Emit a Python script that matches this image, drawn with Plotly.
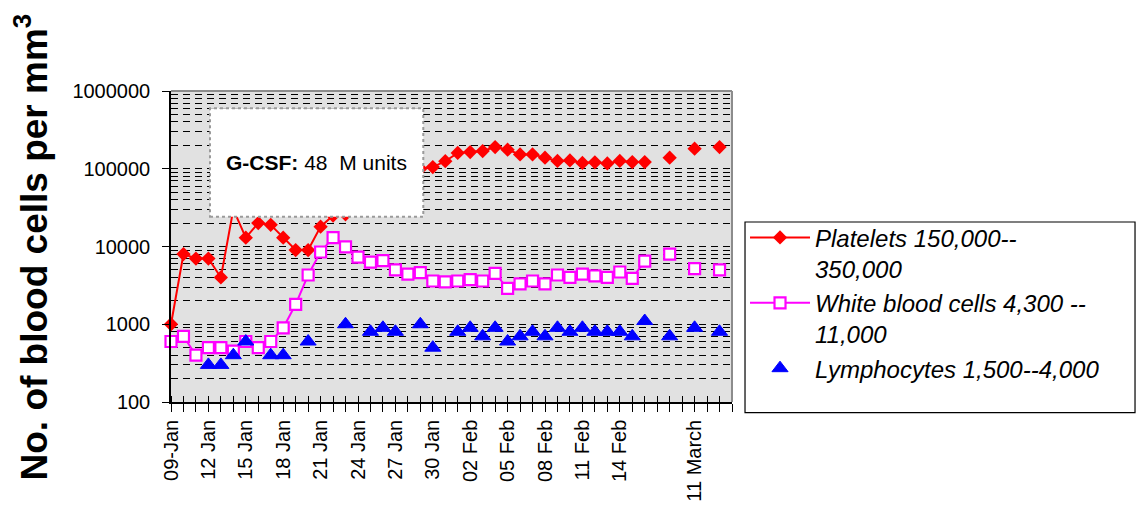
import plotly.graph_objects as go

# ---------------- data ----------------
# category index 0..44 (one category per sampling day); None = no measurement
platelets = [1000, 8000, 7000, 7000, 4000, 30000, 13000, 20000, 19000, 13000,
             9000, 9000, 18000, 25000, 26000, 35000, 45000, 55000, 70000, 85000,
             100000, 105000, 125000, 160000, 164000, 169000, 190000, 176000, 153000, 153000,
             139000, 126000, 128000, 119000, 121000, 117000, 126000, 122000, 122000, None,
             139000, None, 181000, None, 190000]
wbc = [600, 700, 400, 500, 500, 450, 600, 500, 600, 900,
       1800, 4300, 8500, 13000, 9900, 7300, 6300, 6600, 5000, 4400,
       4600, 3600, 3500, 3600, 3750, 3600, 4500, 2900, 3300, 3600,
       3300, 4300, 4000, 4400, 4200, 4000, 4700, 3900, 6500, None,
       8000, None, 5200, None, 5000]
lymphocytes = [None, None, None, 300, 300, 400, 600, None, 400, 400,
               None, 600, None, None, 1000, None, 800, 900, 800, None,
               1000, 500, None, 800, 900, 700, 900, 600, 700, 800,
               700, 900, 800, 900, 800, 800, 800, 700, 1100, None,
               700, None, 900, None, 800]

n_cat = 46  # number of category slots on the axis (last one is the right edge)
tick_labels = {0: "09-Jan", 3: "12 Jan", 6: "15 Jan", 9: "18 Jan", 12: "21 Jan",
               15: "24 Jan", 18: "27 Jan", 21: "30 Jan", 24: "02 Feb", 27: "05 Feb",
               30: "08 Feb", 33: "11 Feb", 36: "14 Feb", 42: "11 March"}
y_tickvals = [100, 1000, 10000, 100000, 1000000]
y_ticktext = ["100", "1000", "10000", "100000", "1000000"]

names = ["Platelets 150,000--<br>350,000",
         "White blood cells 4,300 --<br>11,000",
         "Lymphocytes 1,500--4,000"]

FONT = "Arial, Liberation Sans, Helvetica, sans-serif"

x_idx = list(range(len(platelets)))

fig = go.Figure()
fig.add_trace(go.Scatter(
    x=x_idx, y=platelets, name=names[0], mode="lines+markers",
    line=dict(color="#FF0000", width=2),
    marker=dict(symbol="diamond", size=11, color="#FF0000"),
    connectgaps=False, cliponaxis=False))
fig.add_trace(go.Scatter(
    x=x_idx, y=wbc, name=names[1], mode="lines+markers",
    line=dict(color="#FF00FF", width=2),
    marker=dict(symbol="square", size=11, color="white",
                line=dict(color="#FF00FF", width=2.2)),
    connectgaps=False, cliponaxis=False))
fig.add_trace(go.Scatter(
    x=x_idx, y=lymphocytes, name=names[2], mode="markers",
    marker=dict(symbol="triangle-up", size=14, color="#0000FF",
                line=dict(color="#0000FF", width=1)),
    cliponaxis=False))

ticktext = [tick_labels.get(i, "") for i in range(n_cat)]
minor_y = [m * 10 ** e for e in range(2, 6) for m in range(2, 10)]

fig.update_layout(
    width=1136, height=506, autosize=False,
    margin=dict(l=171, r=404, t=91, b=104, pad=0),
    paper_bgcolor="white", plot_bgcolor="#E1E1E1",
    font=dict(family=FONT, color="black", size=20),
    showlegend=True,
    legend=dict(x=1.0232, xanchor="left", y=0.6004, yanchor="top",
                bgcolor="rgba(0,0,0,0)", borderwidth=0,
                font=dict(size=24, family=FONT, color="black", style="italic"),
                itemwidth=60, valign="top", tracegroupgap=0),
    xaxis=dict(
        type="linear", range=[0, n_cat - 1], automargin=False,
        tickmode="array", tickvals=list(range(n_cat)), ticktext=ticktext,
        tickangle=-90, ticks="outside", ticklen=8, tickcolor="black", tickwidth=1,
        tickfont=dict(size=20, family=FONT, color="black"),
        showgrid=False, zeroline=False,
        showline=True, linecolor="black", linewidth=1.5,
        minor=dict(tickmode="array", tickvals=[i + 0.001 for i in range(n_cat)],
                   ticks="inside", ticklen=6, tickcolor="black", tickwidth=1,
                   showgrid=False),
    ),
    yaxis=dict(
        type="log", range=[2, 6], automargin=False,
        tickmode="array", tickvals=y_tickvals, ticktext=y_ticktext,
        ticks="outside", ticklen=7, tickcolor="black", tickwidth=1,
        ticklabelstandoff=8,
        tickfont=dict(size=20, family=FONT, color="black"),
        showgrid=True, gridcolor="black", gridwidth=1, griddash="7px,5px",
        zeroline=False, showline=True, linecolor="black", linewidth=1.5,
        minor=dict(tickmode="array", tickvals=minor_y, ticks="",
                   showgrid=True, gridcolor="black", gridwidth=1, griddash="7px,5px"),
    ),
)

shapes = [
    # gray top and right plot border
    dict(type="line", xref="paper", yref="paper", x0=0, x1=1, y0=1, y1=1,
         line=dict(color="#8C8C8C", width=2), layer="above"),
    dict(type="line", xref="paper", yref="paper", x0=1, x1=1, y0=0, y1=1,
         line=dict(color="#8C8C8C", width=2), layer="above"),
    # G-CSF text box
    dict(type="rect", xref="paper", yref="paper", x0=0.0695, x1=0.4497, y0=0.5958, y1=0.9444,
         fillcolor="white", line=dict(color="#9A9A9A", width=2, dash="dot"), layer="above"),
    # legend frame
    dict(type="rect", xref="paper", yref="paper", x0=1.0232, x1=1.7184, y0=-0.0344, y1=0.5788,
         fillcolor="white", line=dict(color="black", width=1.2), layer="above"),
]
fig.update_layout(shapes=shapes)

fig.add_annotation(
    xref="paper", yref="paper", x=0.2597, y=0.7695, xanchor="center", yanchor="middle",
    text="<b>G-CSF:</b> 48\u00a0\u00a0M units", showarrow=False,
    font=dict(size=21, family=FONT, color="black"))
fig.add_annotation(
    xref="paper", yref="paper", x=-0.2478, y=0.5, xanchor="center", yanchor="middle",
    text="<b>No. of blood cells per mm<sup>3</sup></b>", textangle=-90, showarrow=False,
    font=dict(size=37, family=FONT, color="black"))

fig.write_html("out.html")
